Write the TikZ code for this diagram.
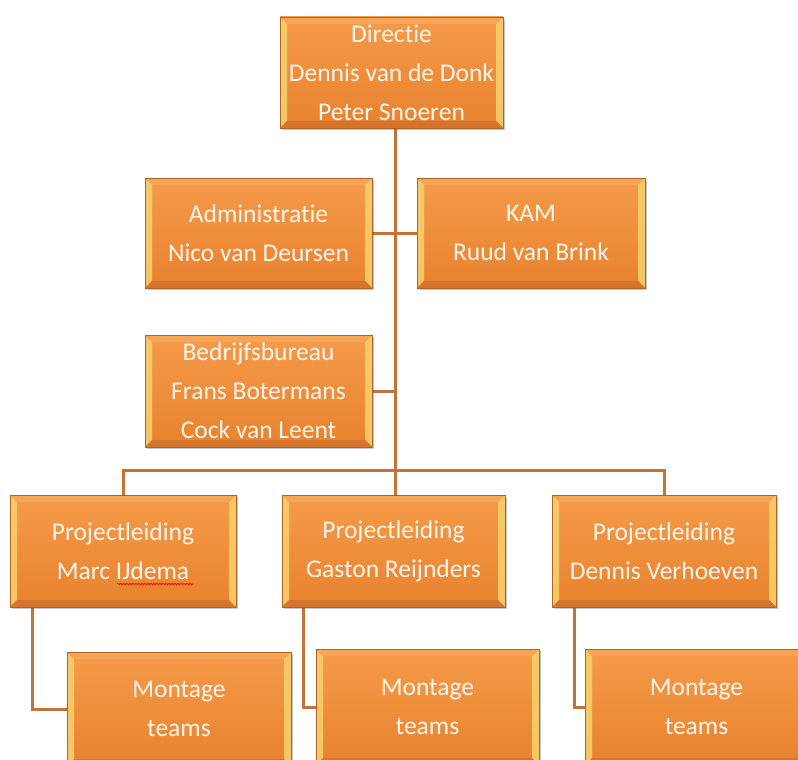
\documentclass[tikz,border=0pt]{standalone}
\usepackage{fontspec}
\setmainfont{Carlito}[Ligatures=NoCommon]
\usetikzlibrary{shadows,backgrounds,decorations.pathmorphing}
\definecolor{obord}{HTML}{B0622C}
\definecolor{otop}{HTML}{F59B4A}
\definecolor{obot}{HTML}{E8822E}
\definecolor{bevL}{HTML}{F7CF6A}
\definecolor{bevT}{HTML}{F6A455}
\definecolor{bevB}{HTML}{D6742C}
\definecolor{conn}{HTML}{C47238}
\definecolor{txt}{HTML}{FFF6EE}
\tikzset{
  obox/.style={rectangle, draw=obord, line width=0.8pt, top color=otop, bottom color=obot,
    text=txt, align=center, font=\fontsize{25.5}{39}\selectfont, inner sep=0pt,
    drop shadow={shadow xshift=2pt, shadow yshift=-2pt, opacity=0.3, fill=black!70},
    path picture={
      \fill[bevL, opacity=0.9] (path picture bounding box.south west) -- (path picture bounding box.north west)
        -- ([shift={(7pt,-7pt)}]path picture bounding box.north west) -- ([shift={(7pt,7pt)}]path picture bounding box.south west) -- cycle;
      \fill[bevL, opacity=0.9] (path picture bounding box.south east) -- (path picture bounding box.north east)
        -- ([shift={(-7pt,-7pt)}]path picture bounding box.north east) -- ([shift={(-7pt,7pt)}]path picture bounding box.south east) -- cycle;
      \fill[bevT] (path picture bounding box.north west) -- (path picture bounding box.north east)
        -- ([shift={(-7pt,-7pt)}]path picture bounding box.north east) -- ([shift={(7pt,-7pt)}]path picture bounding box.north west) -- cycle;
      \fill[bevB] (path picture bounding box.south west) -- (path picture bounding box.south east)
        -- ([shift={(-7pt,7pt)}]path picture bounding box.south east) -- ([shift={(7pt,7pt)}]path picture bounding box.south west) -- cycle;
    }},
  connline/.style={draw=conn, line width=3pt}
}
\begin{document}
\begin{tikzpicture}[x=1pt,y=-1pt]
\useasboundingbox (0,0) rectangle (798,760);
\node[obox, minimum width=223pt, minimum height=111pt] (dir) at (391.5,72.5) {Directie\\Dennis van de Donk\\Peter Snoeren};
\node[obox, minimum width=227pt, minimum height=110pt] (adm) at (258.5,233) {Administratie\\Nico van Deursen};
\node[obox, minimum width=228pt, minimum height=110pt] (kam) at (531,233) {KAM\\Ruud van Brink};
\node[obox, minimum width=227pt, minimum height=112pt] (bed) at (258.5,391) {Bedrijfsbureau\\Frans Botermans\\Cock van Leent};
\node[obox, minimum width=226pt, minimum height=112pt] (p1) at (123,551) {Projectleiding\\Marc IJdema};
\node[obox, minimum width=223pt, minimum height=112pt] (p2) at (393.5,551) {Projectleiding\\Gaston Reijnders};
\node[obox, minimum width=224pt, minimum height=112pt] (p3) at (664,551) {Projectleiding\\Dennis Verhoeven};
\node[obox, minimum width=224pt, minimum height=114pt] (m1) at (179,709) {Montage\\teams};
\node[obox, minimum width=223pt, minimum height=116pt] (m2) at (427.5,707) {Montage\\teams};
\node[obox, minimum width=223pt, minimum height=116pt] (m3) at (696.5,707) {Montage\\teams};
\draw[red, line width=0.7pt, decorate, decoration={snake, amplitude=0.8pt, segment length=3pt}] (117,584) -- (193,584);
\begin{scope}[on background layer]
\fill[white] (0,0) rectangle (798,760);
\coordinate (tr) at (395,470);
\draw[connline] (dir.south -| tr) -- (tr);
\draw[connline] (adm.east) -- (adm.east -| tr);
\draw[connline] (kam.west) -- (kam.west -| tr);
\draw[connline] (bed.east) -- (bed.east -| tr);
\draw[connline] (p1.north) |- (tr) -| (p3.north);
\draw[connline] (tr) -- (tr |- p2.north);
\draw[connline] ([xshift=23pt]p1.south west) |- (m1.west);
\draw[connline] ([xshift=22pt]p2.south west) |- (m2.west);
\draw[connline] ([xshift=23pt]p3.south west) |- (m3.west);
\end{scope}
\end{tikzpicture}
\end{document}
